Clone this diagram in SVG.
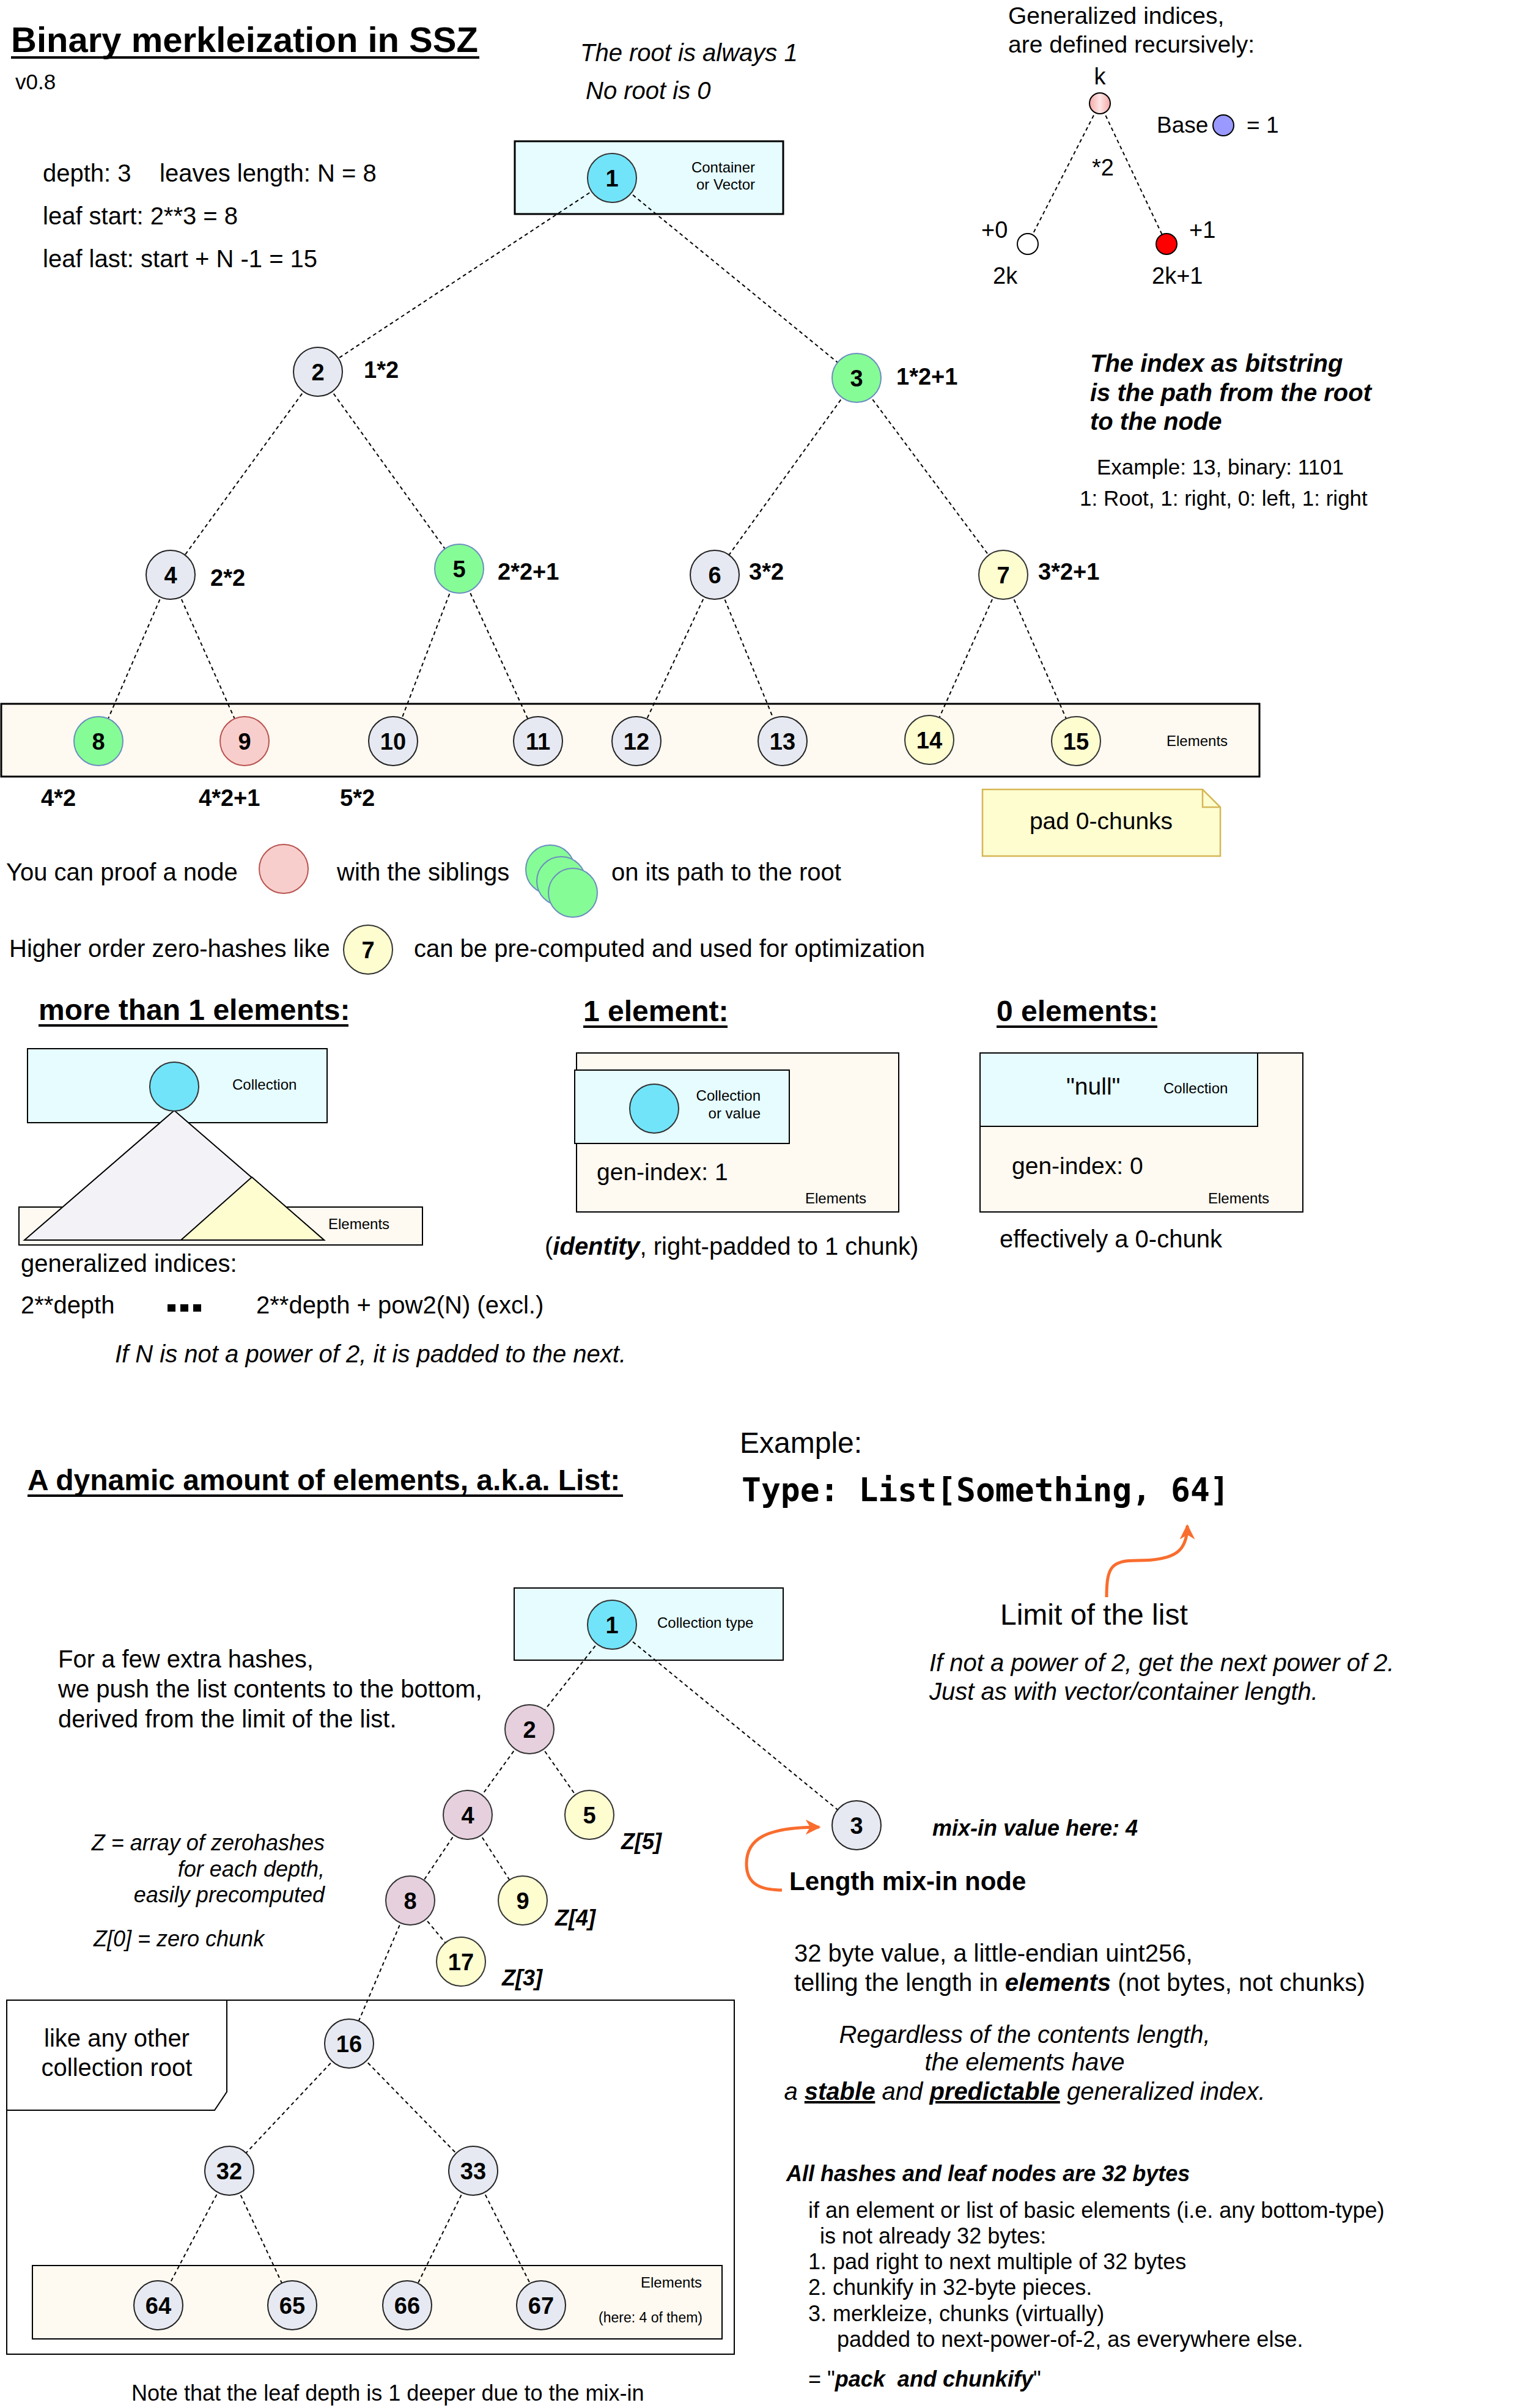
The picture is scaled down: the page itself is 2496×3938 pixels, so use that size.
<svg xmlns="http://www.w3.org/2000/svg" width="2496" height="3938" viewBox="0 0 2496 3938">
<style>
text{font-family:"Liberation Sans",Arial,Helvetica,sans-serif;fill:#000}
text.mono{font-family:"DejaVu Sans Mono","Liberation Mono",monospace;font-weight:bold;font-size:53px}
.b{font-weight:bold}
.i{font-style:italic}
.s24{font-size:24px}
.s36{font-size:36px}
.s38{font-size:38px}
.s40{font-size:40px}
.s48{font-size:48px}
.end{text-anchor:end}
.mid{text-anchor:middle}
.nt{font-weight:bold;font-size:38px;text-anchor:middle}
.lb{font-weight:bold;font-size:38px}
.e{fill:none;stroke:#000;stroke-width:2;stroke-dasharray:6 5}
.box{stroke:#000;stroke-width:3}
.box2{stroke:#000;stroke-width:2}
.cyb{fill:#E6FCFF}
.crm{fill:#FEF9F1}
.cy{fill:#72E4FA;stroke:#333;stroke-width:2}
.gr{fill:#E6E9F1;stroke:#222;stroke-width:2}
.gn{fill:#86FC96;stroke:#6C8EBF;stroke-width:2}
.pk{fill:#F8CECC;stroke:#B85450;stroke-width:2}
.yl{fill:#FDFDD0;stroke:#333;stroke-width:2}
.mv{fill:#E6D0DE;stroke:#333;stroke-width:2}
.sm{stroke:#000;stroke-width:2}
.ul{fill:#000}
.or{fill:none;stroke:#F96D2E;stroke-width:5}
</style>
<defs>
<linearGradient id="kg" x1="0" y1="0" x2="1" y2="0">
<stop offset="0" stop-color="#F4A8A6"/>
<stop offset="0.5" stop-color="#FDE6E6"/>
<stop offset="1" stop-color="#F4A8A6"/>
</linearGradient>
<marker id="oa" viewBox="0 0 10 10" refX="9" refY="5" markerWidth="5" markerHeight="5" orient="auto" markerUnits="strokeWidth">
<path d="M0,0 L10,5 L0,10 L3,5 Z" fill="#F96D2E"/>
</marker>
</defs>
<rect width="2496" height="3938" fill="#fff"/>

<!-- ===== Header texts ===== -->
<g id="title">
<text x="18" y="85" class="b" font-size="58">Binary merkleization in SSZ</text>
<rect x="18" y="92" width="766" height="4" class="ul"/>
<text x="25" y="146" font-size="35">v0.8</text>
</g>
<g id="info">
<text x="70" y="297" class="s40">depth: 3</text>
<text x="261" y="297" class="s40">leaves length: N = 8</text>
<text x="70" y="367" class="s40">leaf start: 2**3 = 8</text>
<text x="70" y="437" class="s40">leaf last: start + N -1 = 15</text>
<text x="949" y="100" class="i s40">The root is always 1</text>
<text x="958" y="162" class="i s40">No root is 0</text>
</g>

<!-- ===== Containers (background) ===== -->
<g id="root-box">
<rect x="842" y="231" width="439" height="119" class="box cyb"/>
<text x="1235" y="282" class="s24 end">Container</text>
<text x="1235" y="310" class="s24 end">or Vector</text>
</g>
<g id="elements-box">
<rect x="2" y="1151" width="2058" height="119" class="box crm"/>
<text x="1908" y="1220" class="s24">Elements</text>
</g>

<!-- ===== Connectors ===== -->
<g id="connectors">
<line x1="1001" y1="291" x2="520" y2="608" class="e"/>
<line x1="1001" y1="291" x2="1401" y2="618" class="e"/>
<line x1="520" y1="608" x2="279" y2="940" class="e"/>
<line x1="520" y1="608" x2="751" y2="930" class="e"/>
<line x1="1401" y1="618" x2="1169" y2="940" class="e"/>
<line x1="1401" y1="618" x2="1641" y2="940" class="e"/>
<line x1="279" y1="940" x2="161" y2="1212" class="e"/>
<line x1="279" y1="940" x2="400" y2="1212" class="e"/>
<line x1="751" y1="930" x2="643" y2="1212" class="e"/>
<line x1="751" y1="930" x2="880" y2="1212" class="e"/>
<line x1="1169" y1="940" x2="1041" y2="1212" class="e"/>
<line x1="1169" y1="940" x2="1280" y2="1212" class="e"/>
<line x1="1641" y1="940" x2="1520" y2="1210" class="e"/>
<line x1="1641" y1="940" x2="1760" y2="1212" class="e"/>
<line x1="1799" y1="169" x2="1681" y2="399" class="e"/>
<line x1="1799" y1="169" x2="1908" y2="399" class="e"/>
</g>

<!-- ===== Main tree nodes ===== -->
<g id="n1"><circle cx="1001" cy="291" r="40" class="cy"/><text x="1001" y="305" class="nt">1</text></g>
<g id="n2"><circle cx="520" cy="608" r="40" class="gr"/><text x="520" y="622" class="nt">2</text><text x="595" y="618" class="lb">1*2</text></g>
<g id="n3"><circle cx="1401" cy="618" r="40" class="gn"/><text x="1401" y="632" class="nt">3</text><text x="1466" y="629" class="lb">1*2+1</text></g>
<g id="n4"><circle cx="279" cy="940" r="40" class="gr"/><text x="279" y="954" class="nt">4</text><text x="344" y="958" class="lb">2*2</text></g>
<g id="n5"><circle cx="751" cy="930" r="40" class="gn"/><text x="751" y="944" class="nt">5</text><text x="814" y="948" class="lb">2*2+1</text></g>
<g id="n6"><circle cx="1169" cy="940" r="40" class="gr"/><text x="1169" y="954" class="nt">6</text><text x="1225" y="948" class="lb">3*2</text></g>
<g id="n7"><circle cx="1641" cy="940" r="40" class="yl"/><text x="1641" y="954" class="nt">7</text><text x="1698" y="948" class="lb">3*2+1</text></g>
<g id="n8"><circle cx="161" cy="1212" r="40" class="gn"/><text x="161" y="1226" class="nt">8</text><text x="67" y="1318" class="lb">4*2</text></g>
<g id="n9"><circle cx="400" cy="1212" r="40" class="pk"/><text x="400" y="1226" class="nt">9</text><text x="325" y="1318" class="lb">4*2+1</text></g>
<g id="n10"><circle cx="643" cy="1212" r="40" class="gr"/><text x="643" y="1226" class="nt">10</text><text x="556" y="1318" class="lb">5*2</text></g>
<g id="n11"><circle cx="880" cy="1212" r="40" class="gr"/><text x="880" y="1226" class="nt">11</text></g>
<g id="n12"><circle cx="1041" cy="1212" r="40" class="gr"/><text x="1041" y="1226" class="nt">12</text></g>
<g id="n13"><circle cx="1280" cy="1212" r="40" class="gr"/><text x="1280" y="1226" class="nt">13</text></g>
<g id="n14"><circle cx="1520" cy="1210" r="40" class="yl"/><text x="1520" y="1224" class="nt">14</text></g>
<g id="n15"><circle cx="1760" cy="1212" r="40" class="yl"/><text x="1760" y="1226" class="nt">15</text></g>

<g id="pad-note">
<path d="M1607,1291 H1967 L1996,1320 V1400 H1607 Z" fill="#FDFDD0" stroke="#D6B656" stroke-width="2.5"/>
<path d="M1967,1291 V1320 H1996" fill="none" stroke="#D6B656" stroke-width="2.5"/>
<text x="1801" y="1356" class="mid" font-size="39">pad 0-chunks</text>
</g>

<!-- ===== Recursive definition ===== -->
<g id="recursion">
<text x="1649" y="39" font-size="39">Generalized indices,</text>
<text x="1649" y="86" font-size="39">are defined recursively:</text>
<text x="1799" y="138" class="mid s38">k</text>
<circle cx="1799" cy="169" r="17" fill="url(#kg)" stroke="#000" stroke-width="2"/>
<text x="1892" y="217" font-size="37">Base</text>
<circle cx="2001" cy="205" r="17" fill="#9999FF" stroke="#000" stroke-width="2"/>
<text x="2039" y="217" font-size="37">= 1</text>
<text x="1786" y="287" class="s38">*2</text>
<circle cx="1681" cy="399" r="17" fill="#fff" stroke="#000" stroke-width="2"/>
<circle cx="1908" cy="399" r="17" fill="#FF0000" stroke="#000" stroke-width="2"/>
<text x="1605" y="389" class="s38">+0</text>
<text x="1945" y="389" class="s38">+1</text>
<text x="1624" y="464" class="s38">2k</text>
<text x="1884" y="464" class="s38">2k+1</text>
</g>
<g id="bitstring">
<text x="1783" y="608" class="b i s40">The index as bitstring</text>
<text x="1783" y="656" class="b i s40">is the path from the root</text>
<text x="1783" y="703" class="b i s40">to the node</text>
<text x="1794" y="776" font-size="35">Example: 13, binary: 1101</text>
<text x="1766" y="827" font-size="35">1: Root, 1: right, 0: left, 1: right</text>
</g>

<!-- ===== Proof ===== -->
<g id="proof">
<text x="10" y="1440" class="s40">You can proof a node</text>
<circle cx="464" cy="1421" r="40" class="pk"/>
<text x="551" y="1440" class="s40">with the siblings</text>
<circle cx="900" cy="1422" r="40" class="gn"/>
<circle cx="918" cy="1441" r="40" class="gn"/>
<circle cx="937" cy="1460" r="40" class="gn"/>
<text x="1000" y="1440" class="s40">on its path to the root</text>
<text x="15" y="1565" class="s40">Higher order zero-hashes like</text>
<circle cx="602" cy="1553" r="40" class="yl"/>
<text x="602" y="1567" class="nt">7</text>
<text x="677" y="1565" class="s40">can be pre-computed and used for optimization</text>
</g>

<!-- ===== more than 1 elements ===== -->
<g id="more-than-1">
<text x="63" y="1668" class="b s48">more than 1 elements:</text>
<rect x="63" y="1675" width="507" height="4" class="ul"/>
<rect x="45" y="1715" width="490" height="121" class="box2 cyb"/>
<text x="380" y="1782" class="s24">Collection</text>
<rect x="31" y="1974" width="660" height="62" class="box2 crm"/>
<text x="537" y="2010" class="s24">Elements</text>
<polygon points="40,2028 285,1816 530,2028" fill="#F2F2F7" class="sm"/>
<polygon points="296,2028 412,1925 530,2028" fill="#FDFDD0" class="sm"/>
<circle cx="285" cy="1777" r="40" class="cy"/>
<text x="34" y="2080" class="s40">generalized indices:</text>
<text x="34" y="2148" class="s40">2**depth</text>
<rect x="274" y="2133" width="13" height="12"/>
<rect x="295" y="2133" width="13" height="12"/>
<rect x="316" y="2133" width="13" height="12"/>
<text x="419" y="2148" class="s40">2**depth + pow2(N) (excl.)</text>
<text x="188" y="2228" class="i s40">If N is not a power of 2, it is padded to the next.</text>
</g>

<!-- ===== 1 element ===== -->
<g id="one-element">
<text x="954" y="1670" class="b s48">1 element:</text>
<rect x="954" y="1677" width="236" height="4" class="ul"/>
<rect x="943" y="1722" width="527" height="260" class="box2 crm"/>
<rect x="940" y="1750" width="351" height="120" class="box2 cyb"/>
<circle cx="1070" cy="1813" r="40" class="cy"/>
<text x="1244" y="1800" class="s24 end">Collection</text>
<text x="1244" y="1829" class="s24 end">or value</text>
<text x="976" y="1930" font-size="39">gen-index: 1</text>
<text x="1317" y="1968" class="s24">Elements</text>
<text x="891" y="2052" class="s40">(<tspan class="b i">identity</tspan>, right-padded to 1 chunk)</text>
</g>

<!-- ===== 0 elements ===== -->
<g id="zero-elements">
<text x="1630" y="1670" class="b s48">0 elements:</text>
<rect x="1630" y="1677" width="263" height="4" class="ul"/>
<rect x="1603" y="1722" width="528" height="260" class="box2 crm"/>
<rect x="1603" y="1722" width="454" height="120" class="box2 cyb"/>
<text x="1744" y="1790" font-size="39">"null"</text>
<text x="1903" y="1788" class="s24">Collection</text>
<text x="1655" y="1920" font-size="39">gen-index: 0</text>
<text x="1976" y="1968" class="s24">Elements</text>
<text x="1635" y="2040" class="s40">effectively a 0-chunk</text>
</g>

<!-- ===== List section ===== -->
<g id="list-header">
<text x="45" y="2437" class="b s48">A dynamic amount of elements, a.k.a. List:</text>
<rect x="45" y="2444" width="974" height="4" class="ul"/>
<text x="1210" y="2376" class="s48">Example:</text>
<text x="1213" y="2455" class="mono">Type: List[Something, 64]</text>
<path d="M1810,2612 C1810,2562 1818,2552 1860,2552 C1925,2552 1942,2535 1942,2495" class="or" marker-end="url(#oa)"/>
<text x="1636" y="2657" font-size="48">Limit of the list</text>
<text x="1520" y="2733" class="i s40">If not a power of 2, get the next power of 2.</text>
<text x="1520" y="2780" class="i s40">Just as with vector/container length.</text>
</g>

<g id="list-root-box">
<rect x="841" y="2597" width="440" height="118" class="box2 cyb"/>
<text x="1075" y="2662" class="s24">Collection type</text>
</g>
<g id="list-outer-box">
<rect x="11" y="3271" width="1190" height="579" fill="#fff" class="box2"/>
<path d="M11,3271 H371 V3421 L351,3451 H11 Z" fill="#fff" class="box2"/>
<text x="191" y="3347" class="mid s40">like any other</text>
<text x="191" y="3395" class="mid s40">collection root</text>
</g>
<g id="list-elements-box">
<rect x="53" y="3705" width="1128" height="120" class="box2 crm"/>
<text x="1048" y="3741" class="s24">Elements</text>
<text x="979" y="3798" font-size="23">(here: 4 of them)</text>
</g>

<g id="list-connectors">
<line x1="1001" y1="2657" x2="866" y2="2828" class="e"/>
<line x1="1001" y1="2657" x2="1401" y2="2985" class="e"/>
<line x1="866" y1="2828" x2="765" y2="2968" class="e"/>
<line x1="866" y1="2828" x2="964" y2="2968" class="e"/>
<line x1="765" y1="2968" x2="671" y2="3108" class="e"/>
<line x1="765" y1="2968" x2="855" y2="3108" class="e"/>
<line x1="671" y1="3108" x2="754" y2="3208" class="e"/>
<line x1="671" y1="3108" x2="571" y2="3342" class="e"/>
<line x1="571" y1="3342" x2="375" y2="3550" class="e"/>
<line x1="571" y1="3342" x2="774" y2="3550" class="e"/>
<line x1="375" y1="3550" x2="259" y2="3770" class="e"/>
<line x1="375" y1="3550" x2="478" y2="3770" class="e"/>
<line x1="774" y1="3550" x2="666" y2="3770" class="e"/>
<line x1="774" y1="3550" x2="885" y2="3770" class="e"/>
</g>

<g id="l1"><circle cx="1001" cy="2657" r="40" class="cy"/><text x="1001" y="2671" class="nt">1</text></g>
<g id="l2"><circle cx="866" cy="2828" r="40" class="mv"/><text x="866" y="2842" class="nt">2</text></g>
<g id="l3"><circle cx="1401" cy="2985" r="40" class="gr"/><text x="1401" y="2999" class="nt">3</text></g>
<g id="l4"><circle cx="765" cy="2968" r="40" class="mv"/><text x="765" y="2982" class="nt">4</text></g>
<g id="l5"><circle cx="964" cy="2968" r="40" class="yl"/><text x="964" y="2982" class="nt">5</text><text x="1016" y="3024" class="b i s36">Z[5]</text></g>
<g id="l8"><circle cx="671" cy="3108" r="40" class="mv"/><text x="671" y="3122" class="nt">8</text></g>
<g id="l9"><circle cx="855" cy="3108" r="40" class="yl"/><text x="855" y="3122" class="nt">9</text><text x="908" y="3149" class="b i s36">Z[4]</text></g>
<g id="l17"><circle cx="754" cy="3208" r="40" class="yl"/><text x="754" y="3222" class="nt">17</text><text x="821" y="3247" class="b i s36">Z[3]</text></g>
<g id="l16"><circle cx="571" cy="3342" r="40" class="gr"/><text x="571" y="3356" class="nt">16</text></g>
<g id="l32"><circle cx="375" cy="3550" r="40" class="gr"/><text x="375" y="3564" class="nt">32</text></g>
<g id="l33"><circle cx="774" cy="3550" r="40" class="gr"/><text x="774" y="3564" class="nt">33</text></g>
<g id="l64"><circle cx="259" cy="3770" r="40" class="gr"/><text x="259" y="3784" class="nt">64</text></g>
<g id="l65"><circle cx="478" cy="3770" r="40" class="gr"/><text x="478" y="3784" class="nt">65</text></g>
<g id="l66"><circle cx="666" cy="3770" r="40" class="gr"/><text x="666" y="3784" class="nt">66</text></g>
<g id="l67"><circle cx="885" cy="3770" r="40" class="gr"/><text x="885" y="3784" class="nt">67</text></g>

<g id="list-notes">
<text x="95" y="2727" class="s40">For a few extra hashes,</text>
<text x="95" y="2776" class="s40">we push the list contents to the bottom,</text>
<text x="95" y="2825" class="s40">derived from the limit of the list.</text>
<text x="531" y="3026" class="i s36 end">Z = array of zerohashes</text>
<text x="531" y="3069" class="i s36 end">for each depth,</text>
<text x="531" y="3111" class="i s36 end">easily precomputed</text>
<text x="153" y="3183" class="i s36">Z[0] = zero chunk</text>
<text x="1525" y="3002" class="b i s36">mix-in value here: 4</text>
<path d="M1279,3091 C1235,3091 1221,3075 1221,3048 C1221,3008 1252,2988 1340,2988" class="or" marker-end="url(#oa)"/>
<text x="1291" y="3091" class="b" font-size="42">Length mix-in node</text>
<text x="1299" y="3208" class="s40">32 byte value, a little-endian uint256,</text>
<text x="1299" y="3256" class="s40">telling the length in <tspan class="b i">elements</tspan> (not bytes, not chunks)</text>
<text x="1676" y="3341" class="i s40 mid">Regardless of the contents length,</text>
<text x="1676" y="3386" class="i s40 mid">the elements have</text>
<text x="1676" y="3434" class="i s40 mid">a <tspan class="b" text-decoration="underline">stable</tspan> and <tspan class="b" text-decoration="underline">predictable</tspan> generalized index.</text>
<text x="1286" y="3567" class="b i s36">All hashes and leaf nodes are 32 bytes</text>
<text x="1322" y="3627" class="s36">if an element or list of basic elements (i.e. any bottom-type)</text>
<text x="1341" y="3669" class="s36">is not already 32 bytes:</text>
<text x="1322" y="3711" class="s36">1. pad right to next multiple of 32 bytes</text>
<text x="1322" y="3753" class="s36">2. chunkify in 32-byte pieces.</text>
<text x="1322" y="3796" class="s36">3. merkleize, chunks (virtually)</text>
<text x="1369" y="3838" class="s36">padded to next-power-of-2, as everywhere else.</text>
<text x="1322" y="3903" class="s36">= "<tspan class="b i">pack&#160; and chunkify</tspan>"</text>
<text x="215" y="3926" class="s36">Note that the leaf depth is 1 deeper due to the mix-in</text>
</g>
</svg>
